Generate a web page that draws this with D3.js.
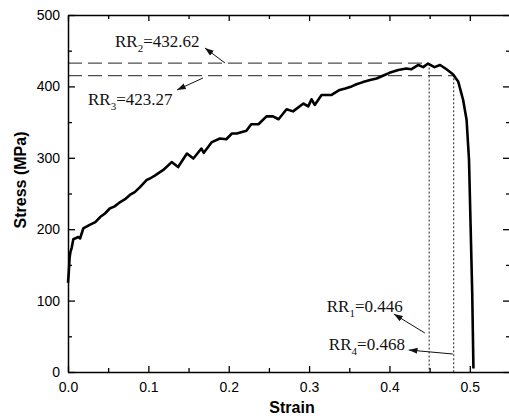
<!DOCTYPE html>
<html>
  <head>
    <meta charset="UTF-8" />
    <script src="https://cdn.jsdelivr.net/npm/d3@7"></script>
    <style>
      body { margin: 0; background: #fff; }
    </style>
  </head>
  <body>
    <svg></svg>
    <script>
      // 1. size
      const width = 509
      const height = 420
      const margin = { top: 15, right: -1, bottom: 48, left: 68 }

      // 2. data
      const strain = [0, 0.001, 0.002, 0.003, 0.0046, 0.0066, 0.0128, 0.015, 0.019, 0.027,
        0.034, 0.040, 0.046, 0.052, 0.058, 0.065, 0.071, 0.077, 0.083, 0.0896, 0.098, 0.102,
        0.108, 0.1186, 0.129, 0.137, 0.148, 0.156, 0.166, 0.169, 0.179, 0.189, 0.197, 0.204,
        0.21, 0.222, 0.228, 0.237, 0.247, 0.255, 0.262, 0.272, 0.28, 0.293, 0.299, 0.303,
        0.307, 0.3155, 0.328, 0.338, 0.345, 0.353, 0.359, 0.367, 0.376, 0.384, 0.394, 0.4,
        0.411, 0.421, 0.427, 0.436, 0.442, 0.448, 0.456, 0.463, 0.471, 0.479, 0.4855, 0.4917,
        0.496, 0.499, 0.501, 0.503, 0.5045]
      const stress = [125, 140, 160, 168, 174, 186, 189, 187, 201, 206,
        210, 217, 222, 229, 232, 238, 242, 248, 252, 259, 269, 271,
        275, 283, 294, 287, 306, 299, 313, 307, 322, 327, 326, 334,
        334, 338, 347, 347, 358, 358, 354, 368, 365, 376, 372, 382,
        374, 388, 388, 395, 397, 400, 403, 406, 409, 411, 416, 419,
        423, 425, 424, 430, 427, 432, 427, 430, 424, 417, 407, 381,
        353, 297, 204, 110, 5]

      const xTicks = [0, 0.1, 0.2, 0.3, 0.4, 0.5]
      const xMinor = [0.05, 0.15, 0.25, 0.35, 0.45]
      const yTicks = [0, 100, 200, 300, 400, 500]
      const yMinor = [50, 150, 250, 350, 450]

      // reference lines: [value, end]
      const hLines = [[432.6, 0.448], [415, 0.48]]
      const vLines = [[0.4494, 432], [0.48, 417]]

      // annotations: label, sub, value, text pos, arrow tail, arrow head
      const notes = [
        { sub: '2', val: '=432.62', at: [0.0585, 455], tail: [0.1953, 432.8], head: [0.1704, 453.8] },
        { sub: '3', val: '=423.27', at: [0.0249, 374], tail: [0.168, 411.8], head: [0.1356, 395] },
        { sub: '1', val: '=0.446', at: [0.322, 84], tail: [0.444, 54.6], head: [0.4055, 81.2] },
        { sub: '4', val: '=0.468', at: [0.3246, 30.8], tail: [0.4789, 25.2], head: [0.424, 30.8] },
      ]

      // 3. scales
      const x = d3.scaleLinear([0, 0.55], [margin.left, width - margin.right])
      const y = d3.scaleLinear([0, 500], [height - margin.bottom - 0, margin.top])
      const x0 = height - margin.bottom

      const svg = d3
        .select('svg')
        .attr('width', width)
        .attr('height', height)
        .attr('viewBox', [0, 0, width, height])
        .style('font-family', '"Liberation Sans", Arial, sans-serif')

      svg.append('defs')
        .append('marker')
        .attr('id', 'arr')
        .attr('viewBox', '0 -4 10 8')
        .attr('refX', 10)
        .attr('refY', 0)
        .attr('markerWidth', 9)
        .attr('markerHeight', 7)
        .attr('markerUnits', 'userSpaceOnUse')
        .attr('orient', 'auto')
        .append('path')
        .attr('d', 'M0,-3.5L10,0L0,3.5Z')
        .attr('fill', '#111')

      // 4. reference lines
      svg.append('g')
        .attr('stroke', '#222')
        .attr('stroke-width', 1)
        .attr('stroke-dasharray', '14,6')
        .selectAll('line')
        .data(hLines)
        .join('line')
        .attr('x1', x(0))
        .attr('x2', (d) => x(d[1]))
        .attr('y1', (d) => y(d[0]))
        .attr('y2', (d) => y(d[0]))

      svg.append('g')
        .attr('stroke', '#222')
        .attr('stroke-width', 1)
        .attr('stroke-dasharray', '2,2')
        .selectAll('line')
        .data(vLines)
        .join('line')
        .attr('x1', (d) => x(d[0]))
        .attr('x2', (d) => x(d[0]))
        .attr('y1', (d) => y(d[1]))
        .attr('y2', y(0))

      // 5. curve
      const line = d3.line().x((d) => x(d[0])).y((d) => y(d[1]))
      svg.append('path')
        .datum(d3.zip(strain, stress))
        .attr('fill', 'none')
        .attr('stroke', '#000')
        .attr('stroke-width', 2.6)
        .attr('stroke-linejoin', 'round')
        .attr('d', line)

      // 6. axes
      const axisStyle = (g) => {
        g.select('.domain').attr('stroke-width', 1.5)
        g.selectAll('.tick line').attr('stroke-width', 1.3)
        g.selectAll('text').attr('font-size', 14).attr('fill', '#000')
      }

      svg.append('g')
        .attr('transform', `translate(0,${x0})`)
        .call(d3.axisBottom(x).tickValues(xTicks).tickSize(-6).tickSizeOuter(0).tickPadding(10).tickFormat(d3.format('.1f')))
        .call(axisStyle)
      svg.append('g')
        .attr('transform', `translate(0,${x0})`)
        .call(d3.axisBottom(x).tickValues(xMinor).tickSize(-4).tickFormat(''))
        .call((g) => g.select('.domain').remove())
        .call(axisStyle)

      svg.append('g')
        .attr('transform', `translate(0,${margin.top})`)
        .call(d3.axisTop(x).tickValues(xTicks).tickSize(-6).tickSizeOuter(0).tickFormat(''))
        .call(axisStyle)
      svg.append('g')
        .attr('transform', `translate(0,${margin.top})`)
        .call(d3.axisTop(x).tickValues(xMinor).tickSize(-4).tickFormat(''))
        .call((g) => g.select('.domain').remove())
        .call(axisStyle)

      svg.append('g')
        .attr('transform', `translate(${margin.left},0)`)
        .call(d3.axisLeft(y).tickValues(yTicks).tickSize(-7).tickSizeOuter(0).tickPadding(8))
        .call(axisStyle)
      svg.append('g')
        .attr('transform', `translate(${margin.left},0)`)
        .call(d3.axisLeft(y).tickValues(yMinor).tickSize(-4).tickFormat(''))
        .call((g) => g.select('.domain').remove())
        .call(axisStyle)

      svg.append('g')
        .attr('transform', `translate(${width - margin.right},0)`)
        .call(d3.axisRight(y).tickValues(yTicks).tickSize(-7).tickSizeOuter(0).tickFormat(''))
        .call(axisStyle)
      svg.append('g')
        .attr('transform', `translate(${width - margin.right},0)`)
        .call(d3.axisRight(y).tickValues(yMinor).tickSize(-4).tickFormat(''))
        .call((g) => g.select('.domain').remove())
        .call(axisStyle)

      // 7. axis titles
      svg.append('text')
        .attr('x', (x(0) + x(0.55)) / 2 + 3)
        .attr('y', 413)
        .attr('text-anchor', 'middle')
        .attr('font-weight', 'bold')
        .attr('font-size', 16)
        .text('Strain')

      svg.append('text')
        .attr('transform', 'translate(26,180) rotate(-90)')
        .attr('text-anchor', 'middle')
        .attr('font-weight', 'bold')
        .attr('font-size', 16)
        .text('Stress (MPa)')

      // 8. annotations
      svg.append('g')
        .attr('stroke', '#111')
        .attr('stroke-width', 1)
        .selectAll('line')
        .data(notes)
        .join('line')
        .attr('x1', (d) => x(d.tail[0]))
        .attr('y1', (d) => y(d.tail[1]))
        .attr('x2', (d) => x(d.head[0]))
        .attr('y2', (d) => y(d.head[1]))
        .attr('marker-end', 'url(#arr)')

      const lab = svg.append('g')
        .attr('font-family', '"Liberation Serif", "Times New Roman", serif')
        .attr('font-size', 17)
        .attr('fill', '#111')
        .selectAll('text')
        .data(notes)
        .join('text')
        .attr('x', (d) => x(d.at[0]))
        .attr('y', (d) => y(d.at[1]))
      lab.append('tspan').text('RR')
      lab.append('tspan').attr('font-size', 11).attr('dy', 5).text((d) => d.sub)
      lab.append('tspan').attr('dy', -5).text((d) => d.val)
    </script>
  </body>
</html>
